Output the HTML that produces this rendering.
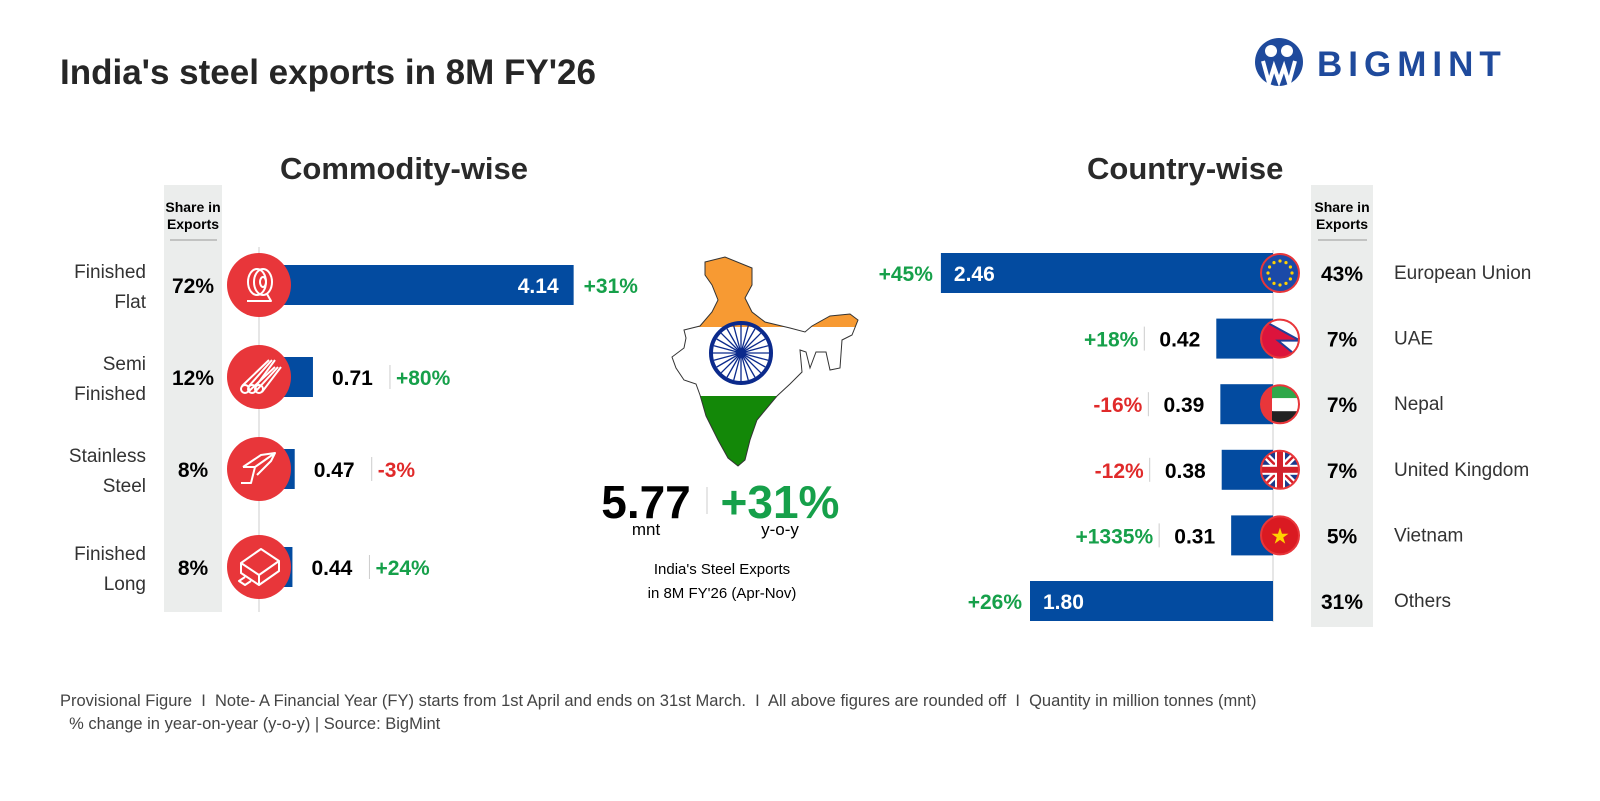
<!DOCTYPE html>
<html><head><meta charset="utf-8"><style>
body{margin:0;width:1600px;height:801px;background:#fff;font-family:"Liberation Sans",sans-serif;position:relative;overflow:hidden;color:#2a2a2a}
.a{position:absolute}
.b{font-weight:bold}
</style></head><body>
<div class="a b" style="left:60px;top:53px;font-size:35px;color:#262626">India's steel exports in 8M FY'26</div>
<div class="a" style="left:1255px;top:37px;width:270px;height:50px">
<svg width="270" height="50"><circle cx="24" cy="25" r="24" fill="#1f4a9c"/><circle cx="16" cy="14" r="6" fill="#fff"/><circle cx="32" cy="14" r="6" fill="#fff"/><path d="M8 24 L14 46 L19 30 L24 44 L29 30 L34 46 L40 24" stroke="#fff" stroke-width="4" fill="none"/><text x="62" y="39" font-family="Liberation Sans" font-weight="bold" font-size="35" letter-spacing="6" fill="#1f4a9c">BIGMINT</text></svg></div>
<div class="a b" style="left:280px;top:151px;font-size:31px">Commodity-wise</div>
<div class="a b" style="left:1087px;top:151px;font-size:31px">Country-wise</div>
<svg class="a" style="left:0;top:0" width="1600" height="801" id="svg" font-family="Liberation Sans">
<defs><clipPath id="ind"><path id="indp" d="M705,262 L725,257 L752,268 L752,285 L745,298 L752,312 L765,322 L790,328 L805,332 L812,326 L830,316 L850,314 L858,320 L852,335 L842,340 L840,368 L830,370 L826,352 L816,352 L810,368 L806,352 L800,350 L802,372 L790,384 L777,396 L757,420 L750,440 L745,460 L738,466 L728,458 L718,440 L706,416 L700,395 L696,384 L684,380 L676,368 L672,357 L684,348 L686,338 L684,330 L700,326 L712,312 L718,300 L712,285 L705,275 Z"/></clipPath></defs>
</svg>
<div class="a" style="left:60px;top:690px;font-size:16.5px;color:#444;line-height:23px">Provisional Figure &nbsp;I&nbsp; Note- A Financial Year (FY) starts from 1st April and ends on 31st March. &nbsp;I&nbsp; All above figures are rounded off &nbsp;I&nbsp; Quantity in million tonnes (mnt)<br>&nbsp;&nbsp;% change in year-on-year (y-o-y) | Source: BigMint</div>
<script>
const comCats=["Finished|Flat","Semi|Finished","Stainless|Steel","Finished|Long"];
const comVals=[4.14,0.71,0.47,0.44];
const comChg=[31,80,-3,24];
const comShare=["72%","12%","8%","8%"];
const ctyCats=["European Union","UAE","Nepal","United Kingdom","Vietnam","Others"];
const ctyVals=[2.46,0.42,0.39,0.38,0.31,1.80];
const ctyChg=[45,18,-16,-12,1335,26];
const ctyShare=["43%","7%","7%","7%","5%","31%"];
const flags=["eu","np","ae","uk","vn",""];
const totalVal="5.77", totalChg=31;

const NS="http://www.w3.org/2000/svg",svg=document.getElementById('svg');
function el(t,a,p){const e=document.createElementNS(NS,t);for(const k in a)e.setAttribute(k,a[k]);(p||svg).appendChild(e);return e;}
function tx(x,y,s,a,p){const e=el('text',Object.assign({x:x,y:y},a),p);e.textContent=s;return e;}
const GREEN="#16a04a",RED="#e02a2a",BLUE="#034ba0";
const col=v=>v<0?RED:GREEN, fmt=v=>(v<0?"":"+")+v+"%";
const W={fill:"none",stroke:"#fff","stroke-width":2,"stroke-linejoin":"round"};
function icon(i,cx,cy,p){const q=el('g',{transform:`translate(${cx},${cy})`},p);
 if(i==0){el('ellipse',Object.assign({cx:-2,cy:-3,rx:9,ry:13},W),q);el('ellipse',Object.assign({cx:4,cy:-3,rx:9,ry:13},W),q);el('ellipse',Object.assign({cx:4,cy:-3,rx:3,ry:5},W),q);el('path',Object.assign({d:"M-12 16 L12 16 L8 9"},W),q);}
 if(i==1){for(let k=0;k<3;k++){el('circle',Object.assign({cx:-14+k*7,cy:12,r:4},W),q);el('path',Object.assign({d:`M${-17+k*7} 9 L${10+k*3} -17 M${-11+k*7} 15 L${16+k*3} -10`},W),q);}}
 if(i==2){el('path',Object.assign({d:"M-16 -2 L-4 -2 L-8 14 L-18 14 M-4 -2 L16 -16 L12 -8 L-2 6 M-16 -2 L2 -14 L16 -16"},W),q);}
 if(i==3){el('path',Object.assign({d:"M-18 -4 L2 -18 L20 -6 L0 8 Z M-18 -4 L-18 6 L0 18 L20 4 L20 -6 M0 8 L0 18 M-14 10 L-20 14 L-14 18 L-8 14"},W),q);}
}
// left
const lx0=259,lsc=76,lrow=i=>[285,377,469,567][i];
const xL=v=>lx0+v*lsc;
let g=el('rect',{x:164,y:185,width:58,height:427,fill:"#ebedec"});
tx(193,212,"Share in",{"font-size":14,"font-weight":"bold","text-anchor":"middle"});
tx(193,229,"Exports",{"font-size":14,"font-weight":"bold","text-anchor":"middle"});
el('line',{x1:170,x2:217,y1:240,y2:240,stroke:"#999"});
el('line',{x1:lx0,x2:lx0,y1:247,y2:612,stroke:"#ddd","stroke-width":1.5});
comVals.forEach((v,i)=>{const cy=lrow(i);const nm=comCats[i].split("|");
 const gg=el('g',{});
 const r=el('rect',{x:lx0,y:cy-20,width:xL(v)-lx0,height:40,fill:BLUE},gg);
 tx(146,cy-7,nm[0],{"font-size":19,"text-anchor":"end",fill:"#333"},gg);tx(146,cy+23,nm[1],{"font-size":19,"text-anchor":"end",fill:"#333"},gg);
 tx(193,cy+8,comShare[i],{"font-size":21,"font-weight":"bold","text-anchor":"middle"},gg);
 el('circle',{cx:lx0,cy:cy,r:32,fill:"#e8363a"},gg);
 icon(i,lx0,cy,gg);
 if(i==0){tx(xL(v)-15,cy+8,v.toFixed(2),{"font-size":21,"font-weight":"bold","text-anchor":"end",fill:"#fff"},gg);tx(xL(v)+10,cy+8,fmt(comChg[i]),{"font-size":21,"font-weight":"bold",fill:col(comChg[i])},gg);}
 else{const x=xL(v)+19;tx(x,cy+8,v.toFixed(2),{"font-size":21,"font-weight":"bold"},gg);el('line',{x1:x+58,x2:x+58,y1:cy-12,y2:cy+12,stroke:"#ccc"},gg);tx(x+64,cy+8,fmt(comChg[i]),{"font-size":21,"font-weight":"bold",fill:col(comChg[i])},gg);}
});
// right
const rx0=1273,rsc=135,rrow=i=>273+i*65.6;
const xR=v=>rx0-v*rsc;
g=el('rect',{x:1311,y:185,width:62,height:442,fill:"#ebedec"});
tx(1342,212,"Share in",{"font-size":14,"font-weight":"bold","text-anchor":"middle"});
tx(1342,229,"Exports",{"font-size":14,"font-weight":"bold","text-anchor":"middle"});
el('line',{x1:1318,x2:1367,y1:240,y2:240,stroke:"#999"});
el('line',{x1:rx0,x2:rx0,y1:250,y2:622,stroke:"#ddd","stroke-width":1.5});
function flag(k,cx,cy,p){if(!k)return;const id='f'+k;const cp=el('clipPath',{id:id},p);el('circle',{cx:cx,cy:cy,r:19},cp);const q=el('g',{"clip-path":"url(#"+id+")"},p);
 const R=(x,y,w,h,f)=>el('rect',{x:cx+x,y:cy+y,width:w,height:h,fill:f},q);
 if(k=="eu"){R(-20,-20,40,40,"#1b4aa8");for(let a=0;a<12;a++){const t=a*Math.PI/6;el('circle',{cx:cx+12*Math.cos(t),cy:cy+12*Math.sin(t),r:1.6,fill:"#ffd200"},q);}}
 if(k=="np"){R(-20,-20,40,40,"#fff");el('path',{d:`M${cx-20} ${cy-20} L${cx+20} ${cy+2} L${cx-2} ${cy+2} L${cx+20} ${cy+20} L${cx-20} ${cy+20}Z`,fill:"#dc143c",stroke:"#1f3f99","stroke-width":2},q);}
 if(k=="ae"){R(-20,-20,40,14,"#2fa84a");R(-20,-6,40,13,"#fff");R(-20,7,40,14,"#222");R(-20,-20,12,40,"#e8363a");}
 if(k=="uk"){R(-20,-20,40,40,"#1b3a8c");el('path',{d:`M${cx-20} ${cy-20}L${cx+20} ${cy+20}M${cx+20} ${cy-20}L${cx-20} ${cy+20}`,stroke:"#fff","stroke-width":7},q);el('path',{d:`M${cx-20} ${cy-20}L${cx+20} ${cy+20}M${cx+20} ${cy-20}L${cx-20} ${cy+20}`,stroke:"#d2202a","stroke-width":2.5},q);R(-20,-5,40,10,"#fff");R(-5,-20,10,40,"#fff");R(-20,-3,40,6,"#d2202a");R(-3,-20,6,40,"#d2202a");}
 if(k=="vn"){R(-20,-20,40,40,"#da1a22");tx(cx,cy+8,"★",{"font-size":22,fill:"#ffd200","text-anchor":"middle"},q);}
 el('circle',{cx:cx,cy:cy,r:19,fill:"none",stroke:"#e8363a","stroke-width":2},p);}
ctyVals.forEach((v,i)=>{const cy=rrow(i);
 const gg=el('g',{});
 const r=el('rect',{x:xR(v),y:cy-20,width:rx0-xR(v),height:40,fill:BLUE},gg);
 flag(flags[i],1280,cy,gg);
 tx(1342,cy+8,ctyShare[i],{"font-size":21,"font-weight":"bold","text-anchor":"middle"},gg);
 tx(1394,cy+6,ctyCats[i],{"font-size":19,fill:"#333"},gg);
 if(i==0||i==5){tx(xR(v)+13,cy+8,v.toFixed(2),{"font-size":21,"font-weight":"bold",fill:"#fff"},gg);tx(xR(v)-8,cy+8,fmt(ctyChg[i]),{"font-size":21,"font-weight":"bold","text-anchor":"end",fill:col(ctyChg[i])},gg);}
 else{const x=xR(v)-16;tx(x,cy+8,v.toFixed(2),{"font-size":21,"font-weight":"bold","text-anchor":"end"},gg);el('line',{x1:x-56,x2:x-56,y1:cy-12,y2:cy+12,stroke:"#ccc"},gg);tx(x-62,cy+8,fmt(ctyChg[i]),{"font-size":21,"font-weight":"bold","text-anchor":"end",fill:col(ctyChg[i])},gg);}
});
// map
const mg=el('g',{"clip-path":"url(#ind)"});
el('rect',{x:660,y:250,width:200,height:77,fill:"#f79a33"},mg);el('rect',{x:660,y:327,width:200,height:69,fill:"#fff"},mg);el('rect',{x:660,y:396,width:200,height:75,fill:"#138808"},mg);
el('path',{d:document.getElementById('indp').getAttribute('d'),fill:"none",stroke:"#333","stroke-width":1});
el('circle',{cx:741,cy:353,r:30,fill:"none",stroke:"#0b2a8c","stroke-width":4});
for(let a=0;a<24;a++){const t=a*Math.PI/12;el('line',{x1:741,y1:353,x2:741+28*Math.cos(t),y2:353+28*Math.sin(t),stroke:"#0b2a8c","stroke-width":1.3});}
el('circle',{cx:741,cy:353,r:5,fill:"#0b2a8c"});
tx(646,518,totalVal,{"font-size":46,"font-weight":"bold","text-anchor":"middle"});
tx(646,535,"mnt",{"font-size":17,"text-anchor":"middle"});
el('line',{x1:707,x2:707,y1:487,y2:514,stroke:"#ccc"});
tx(780,518,"+"+totalChg+"%",{"font-size":46,"font-weight":"bold","text-anchor":"middle",fill:GREEN});
tx(780,535,"y-o-y",{"font-size":17,"text-anchor":"middle"});
tx(722,574,"India's Steel Exports",{"font-size":15,"text-anchor":"middle"});
tx(722,598,"in 8M FY'26 (Apr-Nov)",{"font-size":15,"text-anchor":"middle"});
</script>
</body></html>
